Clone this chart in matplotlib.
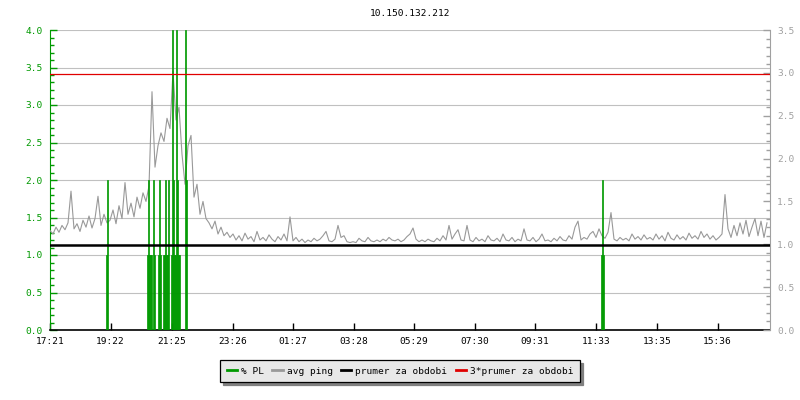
import numpy as np
import matplotlib
matplotlib.use("Agg")
import matplotlib.pyplot as plt
from matplotlib.lines import Line2D
from matplotlib.ticker import MultipleLocator, FormatStrFormatter

plt.rcParams['font.family'] = ['DejaVu Sans Mono']
FS = 6.8

title = "10.150.132.212"
start_label = "17:21"
period_minutes = 1440
tick_labels = ["17:21", "19:22", "21:25", "23:26", "01:27", "03:28",
               "05:29", "07:30", "09:31", "11:33", "13:35", "15:36"]

# avg ping (right axis), one sample every 6 minutes starting 17:21
ping_step = 6
avg_ping = [
    1.16, 1.12, 1.20, 1.14, 1.22, 1.17, 1.25, 1.62, 1.18, 1.24, 1.15, 1.28, 1.20, 1.33, 1.19, 1.30, 1.56, 1.22, 1.35, 1.25,
    1.28, 1.40, 1.24, 1.45, 1.30, 1.72, 1.35, 1.48, 1.32, 1.55, 1.42, 1.60, 1.50, 1.68, 2.78, 1.90, 2.15, 2.30, 2.20, 2.47,
    2.35, 3.02, 2.45, 2.60, 2.05, 1.70, 2.15, 2.27, 1.55, 1.70, 1.35, 1.50, 1.30, 1.25, 1.18, 1.27, 1.12, 1.20, 1.10, 1.14,
    1.08, 1.12, 1.05, 1.10, 1.04, 1.13, 1.06, 1.09, 1.03, 1.15, 1.05, 1.08, 1.04, 1.11, 1.06, 1.03, 1.09, 1.05, 1.12, 1.04,
    1.32, 1.04, 1.08, 1.03, 1.06, 1.02, 1.05, 1.03, 1.07, 1.04, 1.06, 1.10, 1.15, 1.04, 1.03, 1.06, 1.22, 1.08, 1.10, 1.03,
    1.02, 1.03, 1.02, 1.07, 1.04, 1.03, 1.08, 1.04, 1.03, 1.05, 1.03, 1.06, 1.04, 1.08, 1.05, 1.04, 1.06, 1.03, 1.05, 1.09,
    1.12, 1.19, 1.06, 1.03, 1.05, 1.03, 1.06, 1.04, 1.03, 1.07, 1.04, 1.10, 1.05, 1.22, 1.06, 1.12, 1.17, 1.05, 1.04, 1.22,
    1.05, 1.03, 1.08, 1.04, 1.06, 1.03, 1.10, 1.05, 1.04, 1.07, 1.03, 1.12, 1.05, 1.04, 1.08, 1.03, 1.06, 1.04, 1.18, 1.05,
    1.04, 1.08, 1.03, 1.06, 1.12, 1.04, 1.05, 1.03, 1.07, 1.04, 1.09, 1.05, 1.04, 1.10, 1.06, 1.20, 1.27, 1.05, 1.08, 1.06,
    1.12, 1.15, 1.08, 1.18, 1.10, 1.07, 1.14, 1.37, 1.06, 1.04, 1.08, 1.05, 1.07, 1.04, 1.12, 1.06, 1.09, 1.05, 1.11, 1.06,
    1.08, 1.05, 1.12, 1.06, 1.10, 1.04, 1.14, 1.07, 1.05, 1.11, 1.06, 1.09, 1.05, 1.13, 1.07, 1.10, 1.06, 1.15, 1.08, 1.12,
    1.06, 1.10, 1.05, 1.08, 1.12, 1.58, 1.18, 1.08, 1.22, 1.10, 1.25, 1.12, 1.28, 1.09, 1.20, 1.30, 1.10, 1.27, 1.08, 1.25,
]

# packet loss (left axis): minutes after start, % PL (2-minute samples)
pl_minutes = [112, 114,
              194, 196, 198, 200, 202,
              206, 208,
              216, 218, 220,
              226, 228, 230, 232, 234, 236,
              242, 244, 246, 248, 250, 252, 254, 256, 258,
              270, 272,
              1102, 1104, 1106]
pl_values = [1, 2,
             1, 2, 1, 1, 1,
             2, 1,
             1, 2, 1,
             1, 1, 2, 1, 1, 2,
             1, 4, 2, 1, 1, 4, 2, 1, 1,
             4, 2,
             1, 2, 1]
pl_step = 2

prumer = 0.995  # average for period (right axis units)

legend_labels = ["% PL", "avg ping", "prumer za obdobi", "3*prumer za obdobi"]

GREEN = "#009900"
GREY = "#999999"
LGREY = "#a0a0a0"
RED = "#e00000"


def minutes_after_start(lbl):
    h, m = map(int, lbl.split(":"))
    sh, sm = map(int, start_label.split(":"))
    return ((h * 60 + m) - (sh * 60 + sm)) % 1440


fig = plt.figure(figsize=(8, 4), dpi=100)
ax0 = fig.add_axes([50 / 800, 1 - 330 / 400, 720 / 800, 300 / 400])
ax0.set_xlim(0, period_minutes)
ax0.set_ylim(0, 4.0)

ax_ping = ax0.twinx()
ax_pl = ax0.twinx()
ax_avg = ax0.twinx()
for a in (ax_ping, ax_avg):
    a.set_ylim(0, 3.5)
ax_pl.set_ylim(0, 4.0)
for a in (ax_ping, ax_pl, ax_avg):
    a.set_xlim(0, period_minutes)

# grid on left scale
ax0.yaxis.set_major_locator(MultipleLocator(0.5))
ax0.yaxis.set_minor_locator(MultipleLocator(0.1))
ax0.grid(True, axis='y', which='major', color='#c0c0c0', lw=0.8)
ax0.set_axisbelow(True)

# avg ping
t_ping = np.arange(len(avg_ping)) * ping_step
ax_ping.plot(t_ping, avg_ping, color=GREY, lw=0.8)

# packet loss
ax_pl.bar(pl_minutes, pl_values, width=pl_step, align='edge', color=GREEN,
          edgecolor=GREEN, linewidth=0.5)

# averages
ax_avg.axhline(prumer, color='black', lw=1.8)
ax_avg.axhline(3 * prumer, color=RED, lw=0.9)

# spines & ticks
for s in ax0.spines.values():
    s.set_visible(False)
ax0.spines['left'].set_visible(True)
ax0.spines['left'].set_color(GREEN)
ax0.spines['bottom'].set_visible(True)
ax0.spines['bottom'].set_color('black')
ax0.spines['bottom'].set_linewidth(1.2)
ax0.yaxis.set_major_formatter(FormatStrFormatter('%.1f'))
ax0.tick_params(axis='y', which='both', direction='in', colors=GREEN,
                labelsize=FS, pad=5)
ax0.tick_params(axis='y', which='major', length=5, width=1)
ax0.tick_params(axis='y', which='minor', length=3, width=1)

ax0.set_xticks([minutes_after_start(l) for l in tick_labels])
ax0.set_xticklabels(tick_labels)
ax0.tick_params(axis='x', direction='in', length=5, width=1, colors='black',
                labelsize=FS, pad=5)

for s in ax_ping.spines.values():
    s.set_visible(False)
ax_ping.spines['right'].set_visible(True)
ax_ping.spines['right'].set_color(LGREY)
ax_ping.yaxis.set_major_locator(MultipleLocator(0.5))
ax_ping.yaxis.set_minor_locator(MultipleLocator(0.1))
ax_ping.yaxis.set_major_formatter(FormatStrFormatter('%.1f'))
ax_ping.tick_params(axis='y', which='both', direction='in', colors=LGREY,
                    labelsize=FS, pad=5)
ax_ping.tick_params(axis='y', which='major', length=5, width=1)
ax_ping.tick_params(axis='y', which='minor', length=3, width=1)

for a in (ax_pl, ax_avg):
    for s in a.spines.values():
        s.set_visible(False)
    a.set_yticks([])
    a.tick_params(which='both', right=False, left=False, labelright=False)

ax0.set_title(title, fontsize=FS, pad=10)

handles = [Line2D([], [], color=GREEN, lw=2),
           Line2D([], [], color=GREY, lw=2),
           Line2D([], [], color='black', lw=2),
           Line2D([], [], color=RED, lw=2)]
leg = fig.legend(handles, legend_labels, loc='center', bbox_to_anchor=(0.5, 1 - 371 / 400),
                 ncol=4, fontsize=FS, handlelength=1.1, handletextpad=0.4,
                 columnspacing=0.9, borderpad=0.7, fancybox=False,
                 shadow={'color': '#808080', 'alpha': 1.0}, frameon=True)
leg.get_frame().set_facecolor('#e8e8e8')
leg.get_frame().set_edgecolor('black')
leg.get_frame().set_linewidth(0.9)
leg.get_frame().set_alpha(1.0)

fig.savefig("out.png", dpi=100)
